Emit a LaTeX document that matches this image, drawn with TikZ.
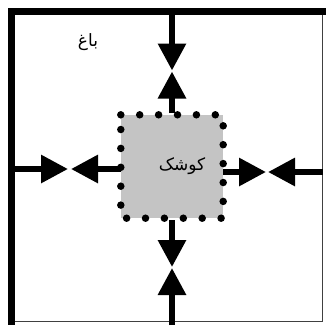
\documentclass[tikz,border=0pt]{standalone}
\usepackage{fontspec}
\usetikzlibrary{arrows.meta}
\TeXXeTstate=1
\newfontfamily\arabicfont[Script=Arabic]{DejaVu Sans}
\definecolor{kioskgray}{RGB}{196,196,196}
\tikzset{
  thickline/.style={line width=7pt},
  thinline/.style={line width=1.5pt, draw=black!75},
  stem/.style={line width=6pt, -{Triangle[length=27pt,width=27pt]}},
  kiosk/.style={rectangle, fill=kioskgray, minimum width=102pt, minimum height=103pt, inner sep=0pt},
  dotted border/.style={line width=7.5pt, line cap=round, dash pattern=on 0pt off 18.9pt},
  lbl/.style={font=\arabicfont\fontsize{17}{19}\selectfont, inner sep=0pt}
}
\begin{document}
\begin{tikzpicture}[x=1pt,y=-1pt]
\useasboundingbox (0,0) rectangle (326,325);
% frame
\coordinate (tl) at (11.5,11.5);
\coordinate (tr) at (326,11.5);
\coordinate (bl) at (11.5,325);
\coordinate (rt) at (322.5,15);
\coordinate (rb) at (322.5,321.5);
\coordinate (bbl) at (15,321.5);
\draw[thickline] (tr) -- (tl.center) -- (bl);
\draw[thinline] (rt) -- (rb) -- (bbl);
% kiosk
\node[kiosk] (k) at (172,166.5) {};
\draw[dotted border] (k.north west) -- (k.north east) -- (k.south east) -- (k.south west) -- cycle;
\node[lbl] (kt) at (182,166) {\beginR کوشک\endR};
\node[lbl] (bt) at (88,42) {\beginR باغ\endR};
% top
\coordinate (t0) at (172,15);
\coordinate (t1) at (172,70.5);
\coordinate (t2) at (172,71.5);
\coordinate (t3) at (172,113);
\draw[stem] (t0) -- (t1);
\draw[stem] (t3) -- (t2);
% bottom
\coordinate (b0) at (172,220);
\coordinate (b1) at (172,267);
\coordinate (b2) at (172,268);
\coordinate (b3) at (172,325);
\draw[stem] (b0) -- (b1);
\draw[stem] (b3) -- (b2);
% left
\coordinate (l0) at (15,169);
\coordinate (l1) at (68,169);
\coordinate (l2) at (71,169);
\coordinate (l3) at (121,169);
\draw[stem] (l0) -- (l1);
\draw[stem] (l3) -- (l2);
% right
\coordinate (r0) at (223,172);
\coordinate (r1) at (266,172);
\coordinate (r2) at (268,172);
\coordinate (r3) at (322.5,172);
\draw[stem] (r0) -- (r1);
\draw[stem] (r3) -- (r2);
\end{tikzpicture}
\end{document}
